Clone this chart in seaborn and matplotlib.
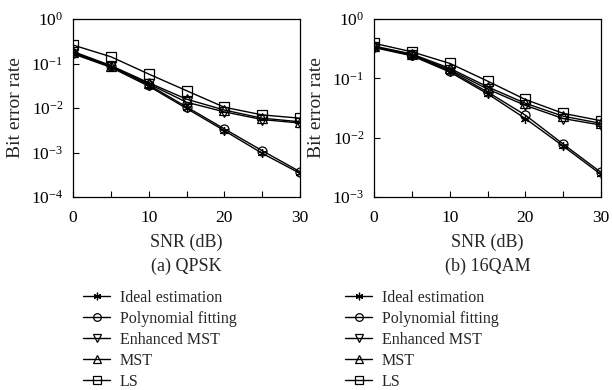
import numpy as np
import pandas as pd
import seaborn as sns
import matplotlib
matplotlib.use("Agg")
import matplotlib.pyplot as plt
from matplotlib.lines import Line2D
from matplotlib.ticker import LogLocator, NullLocator

sns.set_theme(style="white")
plt.rcParams['font.family'] = ['Liberation Serif', 'DejaVu Serif']
plt.rcParams['mathtext.fontset'] = 'stix'

snr = [0, 5, 10, 15, 20, 25, 30]
methods = ["Ideal estimation", "Polynomial fitting", "Enhanced MST", "MST", "LS"]

qpsk_ideal = [0.165, 0.082, 0.031, 0.0098, 0.0031, 0.00096, 0.00034]
qpsk_poly = [0.172, 0.086, 0.033, 0.0106, 0.0034, 0.00110, 0.00037]
qpsk_emst = [0.178, 0.087, 0.035, 0.0135, 0.0082, 0.0055, 0.0046]
qpsk_mst = [0.186, 0.090, 0.037, 0.0158, 0.0090, 0.0059, 0.0049]
qpsk_ls = [0.260, 0.142, 0.058, 0.0245, 0.0104, 0.0070, 0.0059]

qam_ideal = [0.330, 0.240, 0.128, 0.055, 0.021, 0.0072, 0.0024]
qam_poly = [0.340, 0.247, 0.134, 0.059, 0.024, 0.0078, 0.0026]
qam_emst = [0.340, 0.250, 0.140, 0.066, 0.035, 0.021, 0.0163]
qam_mst = [0.350, 0.257, 0.148, 0.072, 0.038, 0.023, 0.0174]
qam_ls = [0.390, 0.280, 0.179, 0.090, 0.044, 0.0257, 0.0193]

xtick_vals = [0, 5, 10, 15, 20, 25, 30]
xtick_labels = ["0", "", "10", "", "20", "", "30"]
captions = ["(a) QPSK", "(b) 16QAM"]

markers = {"Ideal estimation": (6, 2, 0), "Polynomial fitting": "o",
           "Enhanced MST": "v", "MST": "^", "LS": "s"}

def make_df(series):
    rows = []
    for m, vals in zip(methods, series):
        for x, v in zip(snr, vals):
            rows.append({"SNR": x, "BER": v, "method": m})
    return pd.DataFrame(rows)

df_a = make_df([qpsk_ideal, qpsk_poly, qpsk_emst, qpsk_mst, qpsk_ls])
df_b = make_df([qam_ideal, qam_poly, qam_emst, qam_mst, qam_ls])

fig = plt.figure(figsize=(6.13, 3.9), dpi=100)
ax1 = fig.add_axes([73/613, 1-197/390, 227/613, 178/390])
ax2 = fig.add_axes([374/613, 1-197/390, 227/613, 178/390])

for ax, df, ylim, cap in [(ax1, df_a, (1e-4, 1), captions[0]), (ax2, df_b, (1e-3, 1), captions[1])]:
    for m in methods:
        sub = df[df["method"] == m]
        sns.lineplot(data=sub, x="SNR", y="BER", marker=markers[m],
                     color="black", linewidth=1.0, markersize=6.5, markerfacecolor="none",
                     markeredgecolor="black", markeredgewidth=0.9, legend=False, ax=ax)
    ax.set_yscale("log")
    ax.set_ylim(*ylim)
    ax.set_xlim(0, 30)
    ax.yaxis.set_major_locator(LogLocator(base=10, numticks=10))
    ax.yaxis.set_minor_locator(NullLocator())
    ax.set_xticks(xtick_vals)
    ax.set_xticklabels(xtick_labels)
    ax.tick_params(direction="in", length=4, width=0.8, labelsize=12.5, colors="black",
                   left=True, bottom=True, top=False, right=False, pad=7)
    ax.tick_params(axis="x", pad=9)
    for s in ax.spines.values():
        s.set_color("black")
        s.set_linewidth(0.9)
    ax.set_xlabel("SNR (dB)", fontsize=13, labelpad=6)
    ax.set_ylabel("Bit error rate", fontsize=14, labelpad=5)
    ax.text(0.5, -0.34, cap, transform=ax.transAxes, ha="center", va="top", fontsize=13)
    ax.grid(False)

handles = [Line2D([0], [0], color="black", lw=1.0, marker=markers[m], markersize=5.5,
                  markerfacecolor="none", markeredgecolor="black", markeredgewidth=0.9)
           for m in methods]
for xa in [83/613, 345/613]:
    fig.legend(handles, methods, loc="upper left", bbox_to_anchor=(xa, 1-290/390),
               frameon=False, fontsize=11.5, handlelength=1.7, handletextpad=0.6,
               labelspacing=0.31, borderpad=0, borderaxespad=0)

fig.savefig("out.png", dpi=100)
